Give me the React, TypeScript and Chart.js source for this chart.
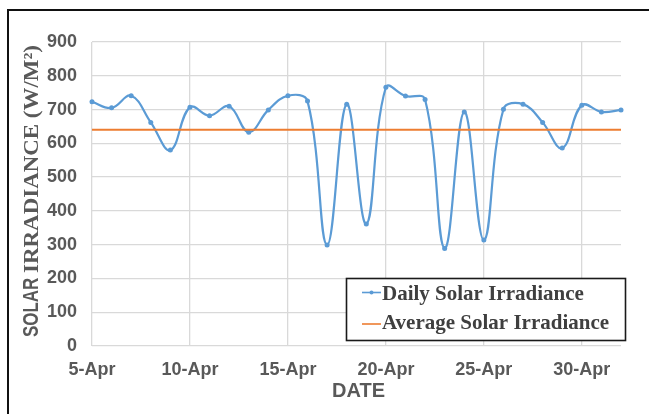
import React, { useEffect, useRef } from "react";
import { Chart, registerables } from "chart.js";

Chart.register(...registerables);

const dates = [
  "5-Apr", "6-Apr", "7-Apr", "8-Apr", "9-Apr", "10-Apr", "11-Apr", "12-Apr",
  "13-Apr", "14-Apr", "15-Apr", "16-Apr", "17-Apr", "18-Apr", "19-Apr", "20-Apr",
  "21-Apr", "22-Apr", "23-Apr", "24-Apr", "25-Apr", "26-Apr", "27-Apr", "28-Apr",
  "29-Apr", "30-Apr", "1-May", "2-May",
];

const dailyIrradiance = [
  723, 705, 741, 662, 580, 707, 682, 710, 633, 699, 741, 725, 299, 716,
  361, 766, 740, 730, 289, 693, 314, 701, 716, 662, 586, 713, 693, 699,
];

const averageIrradiance = [
  640, 640, 640, 640, 640, 640, 640, 640, 640, 640, 640, 640, 640, 640,
  640, 640, 640, 640, 640, 640, 640, 640, 640, 640, 640, 640, 640, 640,
];

const yMin = 0;
const yMax = 900;
const yStep = 100;
const labelEvery = 5;

const yTitleSans = "SOLAR ";
const yTitleSerif = "IRRADIANCE (W/M²)";
const xTitle = "DATE";
const seriesNames = ["Daily Solar Irradiance", "Average Solar Irradiance"];

const BLUE = "#5B9BD5";
const ORANGE = "#ED7D31";
const GRID = "#d9d9d9";
const TEXT = "#595959";

const overlayPlugin = {
  id: "overlay",
  afterDraw(chart: any) {
    const ctx = chart.ctx as CanvasRenderingContext2D;
    const a = chart.chartArea;

    // Y axis title (mixed fonts)
    ctx.save();
    ctx.translate(23, a.top + 149);
    ctx.rotate(-Math.PI / 2);
    ctx.fillStyle = TEXT;
    ctx.textBaseline = "middle";
    ctx.textAlign = "left";
    const f1 = 'bold 22px "Liberation Sans", Arial, sans-serif';
    const f2 = 'bold 22px "Liberation Serif", "Times New Roman", serif';
    ctx.font = f1;
    const w1 = ctx.measureText(yTitleSans).width;
    ctx.font = f2;
    const w2 = ctx.measureText(yTitleSerif).width;
    const len1 = 64;
    const len2 = 228;
    const start = -(len1 + len2) / 2;
    ctx.save();
    ctx.translate(start, 0);
    ctx.scale(len1 / w1, 1);
    ctx.font = f1;
    ctx.fillText(yTitleSans, 0, 0);
    ctx.restore();
    ctx.save();
    ctx.translate(start + len1, 0);
    ctx.scale(len2 / w2, 1);
    ctx.font = f2;
    ctx.fillText(yTitleSerif, 0, 0);
    ctx.restore();
    ctx.restore();

    // X axis title
    ctx.save();
    ctx.fillStyle = TEXT;
    ctx.font = 'bold 20px "Liberation Sans", Arial, sans-serif';
    ctx.textAlign = "center";
    ctx.textBaseline = "middle";
    ctx.fillText(xTitle, (a.left + a.right) / 2 + 2, 380);
    ctx.restore();

    // Legend box
    ctx.save();
    const bx = 337.5, by = 267.5, bw = 279, bh = 62;
    ctx.fillStyle = "#ffffff";
    ctx.fillRect(bx, by, bw, bh);
    ctx.strokeStyle = "#1a1a1a";
    ctx.lineWidth = 1.6;
    ctx.strokeRect(bx, by, bw, bh);

    const colors = [BLUE, ORANGE];
    const lineY = [281.5, 313];
    const baseY = [289, 318];
    for (let i = 0; i < 2; i++) {
      ctx.strokeStyle = colors[i];
      ctx.lineWidth = 1.6;
      ctx.beginPath();
      ctx.moveTo(353, lineY[i]);
      ctx.lineTo(372, lineY[i]);
      ctx.stroke();
      if (i === 0) {
        ctx.fillStyle = BLUE;
        ctx.beginPath();
        ctx.arc(362.5, lineY[i], 2, 0, Math.PI * 2);
        ctx.fill();
      }
      ctx.fillStyle = "#3f3f3f";
      ctx.font = 'bold 21px "Liberation Serif", "Times New Roman", serif';
      ctx.textAlign = "left";
      ctx.textBaseline = "alphabetic";
      ctx.fillText(seriesNames[i], 373, baseY[i]);
    }
    ctx.restore();
  },
};

export default function App() {
  const canvasRef = useRef<HTMLCanvasElement | null>(null);

  useEffect(() => {
    if (!canvasRef.current) return;
    const tickFont = { family: '"Liberation Sans", Arial, sans-serif', size: 18, weight: "bold" as const };
    const chart = new Chart(canvasRef.current, {
      type: "line",
      data: {
        labels: dates,
        datasets: [
          {
            label: seriesNames[0],
            data: dailyIrradiance,
            borderColor: BLUE,
            backgroundColor: BLUE,
            borderWidth: 2.2,
            tension: 0.4,
            pointRadius: 2.5,
            pointBorderWidth: 0,
            pointBackgroundColor: BLUE,
            fill: false,
            order: 1,
          },
          {
            label: seriesNames[1],
            data: averageIrradiance,
            borderColor: ORANGE,
            backgroundColor: ORANGE,
            borderWidth: 2,
            tension: 0,
            pointRadius: 0,
            fill: false,
            order: 0,
          },
        ],
      },
      options: {
        animation: false,
        responsive: false,
        maintainAspectRatio: false,
        layout: { padding: { left: 0, top: 31, right: 28, bottom: 0 } },
        plugins: {
          legend: { display: false },
          tooltip: { enabled: false },
        },
        scales: {
          x: {
            type: "category",
            offset: false,
            border: { display: false },
            grid: {
              color: (c: any) => (c.index % labelEvery === 0 ? GRID : "rgba(0,0,0,0)"),
              lineWidth: 1.3,
              drawTicks: false,
            },
            ticks: {
              autoSkip: false,
              maxRotation: 0,
              minRotation: 0,
              padding: 13,
              color: TEXT,
              font: tickFont,
              callback: (_v: any, i: number) => (i % labelEvery === 0 ? dates[i] : ""),
            },
            afterFit: (s: any) => {
              s.height = 68;
            },
          },
          y: {
            min: yMin,
            max: yMax,
            border: { display: false },
            grid: { color: GRID, lineWidth: 1.3, drawTicks: false },
            ticks: {
              stepSize: yStep,
              padding: 15,
              color: TEXT,
              font: tickFont,
            },
            afterFit: (s: any) => {
              s.width = 83;
            },
          },
        },
      },
      plugins: [overlayPlugin],
    });
    return () => chart.destroy();
  }, []);

  return (
    <div
      style={{
        position: "fixed",
        left: 0,
        top: 0,
        width: 649,
        height: 414,
        overflow: "hidden",
        background: "#ffffff",
      }}
    >
      <div
        style={{
          position: "absolute",
          left: 7,
          top: 9,
          width: 700,
          height: 460,
          borderLeft: "2px solid #111",
          borderTop: "2px solid #111",
        }}
      />
      <canvas
        ref={canvasRef}
        width={640}
        height={403}
        style={{ position: "absolute", left: 9, top: 11, width: 640, height: 403, display: "block" }}
      />
    </div>
  );
}
